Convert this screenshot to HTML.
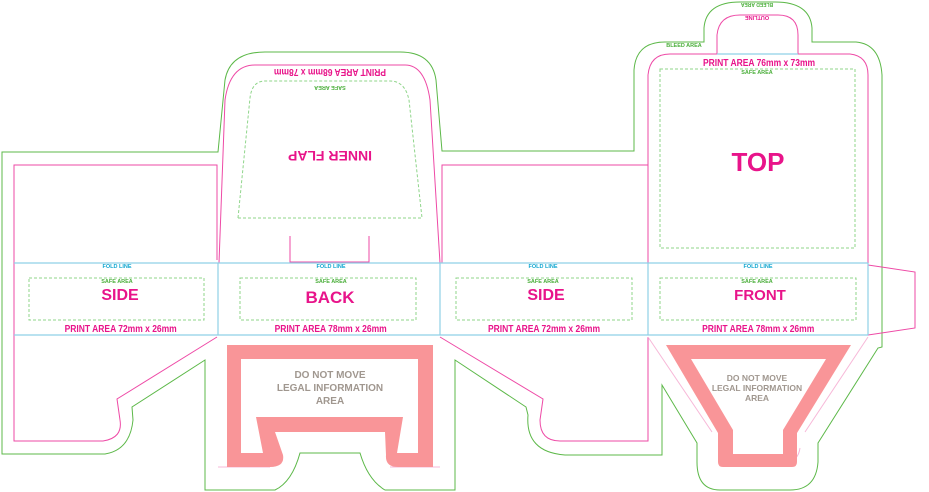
<!DOCTYPE html>
<html><head><meta charset="utf-8"><style>
html,body{margin:0;padding:0;background:#fff;}
svg{display:block;}
text{font-family:"Liberation Sans",sans-serif;font-weight:bold;text-anchor:middle;}
</style></head><body>
<svg width="929" height="492" viewBox="0 0 929 492" xmlns="http://www.w3.org/2000/svg">
<g fill="none" stroke="#5cb848" stroke-width="1">
<path d="M205,490 V360 L132,407 L133,420 Q130,450 105,454 H2 V152 H218 L225,80 Q230,52 265,52 H400 Q432,52 436,80 L442,151 H634 V70 Q636,42 665,42 H704 V28 Q706,2 740,2 H775 Q810,2 812,28 V42 H856 Q880,44 882,75 V347 L878,348 L818,443 V462 Q816,490 790,490 H720 Q697,490 697,462 V443 L662,385 V455 H565 Q525,452 528,415 L526,407 L455,360 V490 H385 Q368,480 360,453 H300 Q292,482 275,490 Z"/>
</g>
<g fill="none" stroke="#ee4aa6" stroke-width="1">
<path d="M217,260 V165 H14 V441 H103 Q123,438 120,420 L117,399 L217,337"/>
<path d="M219,263 L225,100 Q230,65 255,65 H405 Q425,65 430,100 L440,263"/>
<path d="M442,263 V165 H648"/>
<path d="M440,337 L543,399 L540,420 Q540,441 560,441 H648 V337"/>
<path d="M648,263 V75 Q650,54 670,54 H717 V35 Q719,15 740,15 H778 Q798,15 798,35 V54 H850 Q868,56 868,75 V263"/>
<path d="M868,265 L915,272 V328 L868,335"/>
<path d="M290,236 V262 H369 V236"/>
</g>
<g fill="none" stroke="#f7b8d8" stroke-width="1">
<path d="M648,337 L712,432 M868,337 L805,432 M720,448 Q722,462 735,462 H785 Q798,462 800,448"/>
<path d="M218,467 H270 M390,467 H440"/>
</g>
<g stroke="#8fd0e6" stroke-width="1.2" fill="none">
<path d="M14,263 H868 M14,335 H868 M218,263 V335 M440,263 V335 M648,263 V335 M868,263 V335 M717,54 H798"/>
</g>
<g fill="none" stroke="#8fd58a" stroke-width="1" stroke-dasharray="3,2">
<rect x="29" y="278" width="175" height="42"/>
<rect x="240" y="278" width="176" height="42"/>
<rect x="456" y="278" width="176" height="42"/>
<rect x="660" y="278" width="196" height="42"/>
<rect x="660" y="69" width="195" height="179"/>
<path d="M238,218 H422 L409,100 Q405,81 390,81 H265 Q252,81 250,98 Z"/>
</g>
<path fill="#f99598" fill-rule="evenodd" d="M227,345 H433 V467 H398 Q385,467 386,455 L385,432 H275 L283,455 Q285,467 270,467 H227 Z M241,359 V453 H263 L256,417 H403 L397,453 H418 V359 Z"/>
<path fill="#f99598" fill-rule="evenodd" d="M666,345 H851 L797,433 V462 Q797,467 792,467 H723 Q718,467 718,462 V433 Z M691,359 L733,430 V454 H783 V430 L826,359 Z"/>
<g fill="#10a6d0" font-size="5.5">
<text x="117" y="268">FOLD LINE</text><text x="331" y="268">FOLD LINE</text><text x="543" y="268">FOLD LINE</text><text x="758" y="268">FOLD LINE</text>
</g>
<g fill="#4caf3c" font-size="5.5">
<text x="117" y="283">SAFE AREA</text><text x="331" y="283">SAFE AREA</text><text x="543" y="283">SAFE AREA</text><text x="757" y="283">SAFE AREA</text>
<text x="757" y="74">SAFE AREA</text><text x="684" y="47">BLEED AREA</text>
<text transform="translate(330,86) rotate(180)">SAFE AREA</text>
<text transform="translate(757,3) rotate(180)" font-size="5">BLEED AREA</text>
</g>
<g fill="#e8148a">
<text x="120" y="300" font-size="16">SIDE</text>
<text x="330" y="303" font-size="17">BACK</text>
<text x="546" y="300" font-size="16">SIDE</text>
<text x="760" y="300" font-size="15">FRONT</text>
<text x="758" y="171" font-size="26">TOP</text>
<g font-size="10" transform="scale(0.85,1)">
<text x="142" y="332">PRINT AREA 72mm x 26mm</text>
<text x="389" y="332">PRINT AREA 78mm x 26mm</text>
<text x="640" y="332">PRINT AREA 72mm x 26mm</text>
<text x="892" y="332">PRINT AREA 78mm x 26mm</text>
<text x="893" y="66">PRINT AREA 76mm x 73mm</text>
</g>
<text transform="translate(330,69) rotate(180) scale(0.85,1)" font-size="10">PRINT AREA 68mm x 78mm</text>
<text transform="translate(330,151) rotate(180)" font-size="14">INNER FLAP</text>
<text transform="translate(757,16) rotate(180)" font-size="5.5">OUTLINE</text>
</g>
<g fill="#a0978f" font-size="10">
<text x="330" y="378">DO NOT MOVE</text><text x="330" y="391">LEGAL INFORMATION</text><text x="330" y="404">AREA</text>
</g>
<g fill="#a0978f" font-size="8.5">
<text x="757" y="381">DO NOT MOVE</text><text x="757" y="391">LEGAL INFORMATION</text><text x="757" y="401">AREA</text>
</g>
</svg>
</body></html>
